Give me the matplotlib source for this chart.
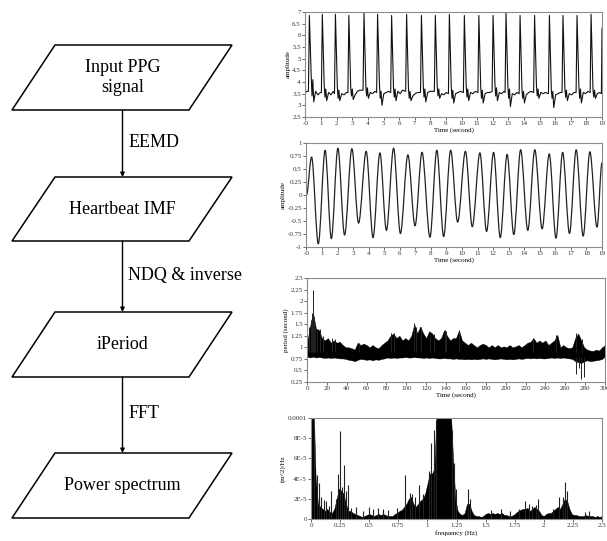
import matplotlib
matplotlib.use('Agg')
import matplotlib.pyplot as plt
import numpy as np
from matplotlib.path import Path
from matplotlib.patches import PathPatch, Polygon

plt.rcParams['font.family'] = ['Liberation Serif', 'DejaVu Serif']

# ---- PPG signal (plot 1), one row per beat ----
ppg_t = [-0.02, 0.10,
         0.19, 0.25, 0.37, 0.42, 0.47, 0.53, 0.65, 0.80, 0.95,
         1.02, 1.08, 1.20, 1.25, 1.30, 1.36, 1.48, 1.63, 1.78,
         1.86, 1.92, 2.04, 2.09, 2.14, 2.20, 2.32, 2.47, 2.62,
         2.72, 2.78, 2.90, 2.95, 3.00, 3.06, 3.18, 3.33, 3.48,
         3.69, 3.75, 3.87, 3.92, 3.97, 4.03, 4.15, 4.30, 4.45,
         4.56, 4.62, 4.74, 4.79, 4.84, 4.90, 5.02, 5.17, 5.32,
         5.46, 5.52, 5.64, 5.69, 5.74, 5.80, 5.92, 6.07, 6.22,
         6.42, 6.48, 6.60, 6.65, 6.70, 6.76, 6.88, 7.03, 7.18,
         7.37, 7.43, 7.55, 7.60, 7.65, 7.71, 7.83, 7.98, 8.13,
         8.26, 8.32, 8.44, 8.49, 8.54, 8.60, 8.72, 8.87, 9.02,
         9.16, 9.22, 9.34, 9.39, 9.44, 9.50, 9.62, 9.77, 9.92,
         10.12, 10.18, 10.30, 10.35, 10.40, 10.46, 10.58, 10.73, 10.88,
         11.05, 11.11, 11.23, 11.28, 11.33, 11.39, 11.51, 11.66, 11.81,
         11.96, 12.02, 12.14, 12.19, 12.24, 12.30, 12.42, 12.57, 12.72,
         12.79, 12.85, 12.97, 13.02, 13.07, 13.13, 13.25, 13.40, 13.55,
         13.69, 13.75, 13.87, 13.92, 13.97, 14.03, 14.15, 14.30, 14.45,
         14.62, 14.68, 14.80, 14.85, 14.90, 14.96, 15.08, 15.23, 15.38,
         15.57, 15.63, 15.75, 15.80, 15.85, 15.91, 16.03, 16.18, 16.33,
         16.44, 16.50, 16.62, 16.67, 16.72, 16.78, 16.90, 17.05, 17.20,
         17.34, 17.40, 17.52, 17.57, 17.62, 17.68, 17.80, 17.95, 18.10,
         18.24, 18.30, 18.42, 18.47, 18.52, 18.58, 18.70, 18.85, 18.96,
         19.0]
ppg_v = [3.55, 3.6,
         3.6, 6.85, 4.2, 3.4, 4.1, 3.15, 3.6, 3.45, 3.55,
         3.55, 6.9, 3.85, 3.35, 3.7, 3.2, 3.55, 3.45, 3.6,
         3.5, 6.9, 3.8, 3.3, 3.65, 3.2, 3.5, 3.45, 3.55,
         3.55, 6.85, 3.75, 3.4, 3.7, 3.25, 3.45, 3.6, 3.65,
         3.65, 6.95, 3.8, 3.4, 3.75, 3.3, 3.55, 3.5, 3.6,
         3.55, 6.9, 3.9, 3.3, 3.6, 3.0, 3.5, 3.55, 3.6,
         3.55, 6.85, 3.75, 3.35, 3.7, 3.2, 3.6, 3.5, 3.65,
         3.6, 6.9, 3.7, 3.3, 3.6, 3.2, 3.4, 3.5, 3.55,
         3.55, 6.85, 3.8, 3.35, 3.7, 3.15, 3.55, 3.6, 3.6,
         3.6, 6.85, 3.85, 3.4, 3.7, 3.3, 3.5, 3.45, 3.55,
         3.5, 6.9, 3.8, 3.3, 3.65, 3.1, 3.5, 3.55, 3.6,
         3.55, 6.85, 3.8, 3.35, 3.7, 3.2, 3.55, 3.5, 3.6,
         3.55, 6.85, 3.75, 3.3, 3.65, 3.1, 3.5, 3.55, 3.55,
         3.6, 6.85, 3.9, 3.4, 3.75, 3.2, 3.55, 3.5, 3.6,
         3.55, 6.95, 3.8, 3.3, 3.7, 2.95, 3.5, 3.45, 3.55,
         3.5, 6.85, 3.7, 3.3, 3.6, 3.1, 3.45, 3.55, 3.6,
         3.55, 6.85, 3.85, 3.4, 3.7, 3.3, 3.55, 3.5, 3.55,
         3.5, 6.85, 3.7, 3.3, 3.6, 2.9, 3.45, 3.5, 3.55,
         3.55, 6.85, 3.75, 3.35, 3.65, 3.2, 3.5, 3.45, 3.55,
         3.55, 6.85, 3.8, 3.3, 3.7, 3.1, 3.55, 3.5, 3.6,
         3.55, 6.9, 3.7, 3.35, 3.65, 3.3, 3.5, 3.55, 3.5,
         6.3]

# ---- heartbeat IMF (plot 2): start, alternating peaks/troughs, end ----
imf_t = [0.0, 0.33, 0.76, 1.20, 1.60, 2.02, 2.45, 2.92, 3.35, 3.84, 4.28,
         4.72, 5.14, 5.60, 6.04, 6.52, 6.98, 7.43, 7.94, 8.38, 8.82, 9.27,
         9.72, 10.22, 10.66, 11.15, 11.58, 12.03, 12.46, 12.90, 13.33, 13.77,
         14.23, 14.68, 15.15, 15.61, 16.04, 16.47, 16.91, 17.34, 17.79, 18.22,
         18.68, 19.0]
imf_v = [0.0, 0.73, -0.94, 0.86, -0.84, 0.90, -0.77, 0.89, -0.54, 0.84, -0.82,
         0.81, -0.68, 0.90, -0.74, 0.77, -0.59, 0.82, -0.81, 0.86, -0.80, 0.86,
         -0.52, 0.84, -0.61, 0.81, -0.70, 0.82, -0.82, 0.78, -0.76, 0.87,
         -0.68, 0.87, -0.65, 0.79, -0.83, 0.82, -0.74, 0.87, -0.79, 0.83,
         -0.62, 0.62]

# ---- iPeriod (plot 3): band envelope every 3 s, plus spikes/dips ----
per_hi = [1.10, 1.45, 1.75, 1.40, 1.38, 1.20, 1.15, 1.20, 1.10, 1.15, 1.10,
          1.12, 1.05, 1.00, 1.00, 0.98, 0.95, 1.10, 1.05, 1.08, 1.05, 1.00,
          1.05, 1.00, 0.98, 1.05, 1.10, 1.15, 1.25, 1.30, 1.20, 1.25, 1.15,
          1.20, 1.15, 1.25, 1.50, 1.30, 1.45, 1.30, 1.20, 1.35, 1.30, 1.20,
          1.15, 1.20, 1.37, 1.25, 1.15, 1.20, 1.20, 1.37, 1.15, 1.10, 1.05,
          1.10, 1.05, 1.00, 1.05, 1.08, 1.05, 1.00, 1.05, 1.00, 1.05, 1.00,
          1.02, 1.00, 1.05, 1.00, 1.02, 1.05, 1.00, 1.05, 1.10, 1.12, 1.20,
          1.10, 1.15, 1.10, 1.15, 1.05, 1.10, 1.15, 1.27, 1.00, 1.05, 1.00,
          0.98, 1.00, 1.20, 1.30, 1.15, 1.00, 0.95, 0.93, 0.92, 0.95, 0.93,
          1.00, 1.05]
per_lo = [0.80, 0.78, 0.80, 0.78, 0.79, 0.78, 0.77, 0.78, 0.77, 0.78, 0.77,
          0.76, 0.76, 0.75, 0.73, 0.72, 0.70, 0.73, 0.75, 0.74, 0.73, 0.74,
          0.72, 0.74, 0.73, 0.75, 0.76, 0.78, 0.77, 0.78, 0.77, 0.78, 0.78,
          0.79, 0.78, 0.78, 0.79, 0.78, 0.78, 0.77, 0.78, 0.77, 0.78, 0.77,
          0.76, 0.76, 0.77, 0.76, 0.76, 0.75, 0.76, 0.75, 0.75, 0.74, 0.75,
          0.74, 0.75, 0.74, 0.75, 0.76, 0.75, 0.76, 0.75, 0.74, 0.75, 0.76,
          0.75, 0.74, 0.75, 0.74, 0.75, 0.76, 0.75, 0.76, 0.77, 0.76, 0.77,
          0.76, 0.77, 0.76, 0.76, 0.77, 0.78, 0.77, 0.78, 0.77, 0.78, 0.77,
          0.76, 0.75, 0.70, 0.68, 0.66, 0.70, 0.72, 0.70, 0.71, 0.72, 0.73,
          0.75, 0.80]
per_step = 3
spike_t = [2, 4.5, 5.5, 6.2, 7, 8, 10, 13, 16, 25, 28, 52, 85, 88, 107.5, 110,
           115, 124, 128, 139, 140, 153, 228, 251, 271, 277]
spike_top = [1.45, 1.6, 1.75, 2.25, 1.65, 1.42, 1.38, 1.4, 1.25, 1.2, 1.18, 1.1,
             1.3, 1.32, 1.52, 1.45, 1.45, 1.3, 1.28, 1.37, 1.35, 1.37, 1.2, 1.27,
             1.32, 1.17]
dip_t = [271, 274, 276, 278.5]
dip_bottom = [0.42, 0.55, 0.32, 0.35]

# ---- power spectrum (plot 4): envelope every 0.02 Hz, in units of 1E-5 ----
psd_env = [12, 12, 4.0, 1.5, 1.2, 1.0, 0.8, 1.0, 0.7, 0.6, 1.0, 2.0, 3.0, 2.8,
           2.5, 1.5, 0.8, 0.8, 0.6, 0.5, 0.4, 0.3, 0.2, 0.3, 0.4, 0.5, 0.4, 0.3,
           0.4, 0.5, 0.4, 0.5, 0.4, 0.3, 0.3, 0.3, 0.5, 0.6, 0.8, 0.9, 1.2, 1.5,
           2.0, 2.2, 1.5, 1.2, 1.5, 1.8, 2.0, 2.5, 3.5, 4.5, 4.5, 5.0, 11, 12,
           12, 12, 12, 12, 11, 6, 2.0, 0.8, 0.5, 0.4, 0.6, 1.5, 1.5, 0.8, 0.4,
           0.3, 0.3, 0.2, 0.3, 0.5, 0.6, 0.5, 0.6, 0.5, 0.6, 0.5, 0.6, 0.4, 0.4,
           0.3, 0.3, 0.4, 0.6, 0.8, 0.9, 1.0, 1.0, 1.1, 0.8, 1.0, 1.2, 1.0, 0.8,
           0.4, 0.3, 0.5, 0.6, 0.6, 0.8, 1.0, 1.2, 1.0, 1.5, 2.0, 1.8, 1.0, 0.5,
           0.4, 0.4, 0.3, 0.3, 0.3, 0.4, 0.3, 0.3, 0.3, 0.2, 0.3, 0.2, 0.3]
psd_step = 0.02
psd_spike_f = [0.03, 0.05, 0.065, 0.09, 0.11, 0.13, 0.155, 0.17, 0.215, 0.235,
               0.25, 0.265, 0.285, 0.30, 0.315, 0.34, 0.39, 0.45, 0.50, 0.53,
               0.575, 0.62, 0.66, 0.74, 0.81, 0.85, 0.87, 0.895, 0.93, 0.96,
               1.01, 1.035, 1.055, 1.075, 1.21, 1.225, 1.245, 1.35, 1.37, 1.55,
               1.63, 1.71, 1.79, 1.84, 1.87, 1.90, 1.93, 1.95, 2.08, 2.13,
               2.165, 2.18, 2.20, 2.35, 2.39]
psd_spike_h = [9, 4.4, 3.6, 2.2, 1.9, 1.8, 1.3, 2.8, 2.0, 4.5, 8.7, 3.2, 5.3,
               2.8, 3.4, 1.1, 1.2, 0.8, 1.2, 1.0, 1.1, 1.0, 0.9, 1.1, 4.4, 2.6,
               2.5, 2.2, 3.4, 2.5, 4.8, 7.5, 8.8, 9.8, 8.8, 5.5, 3.0, 3.0, 2.0,
               0.9, 1.0, 0.8, 1.0, 1.8, 1.5, 1.3, 1.4, 2.0, 1.0, 2.2, 2.2, 3.7,
               2.8, 0.7, 0.8]

# flowchart text
box_texts = ['Input PPG\nsignal', 'Heartbeat IMF', 'iPeriod', 'Power spectrum']
arrow_texts = ['EEMD', 'NDQ & inverse', 'FFT']

W, H = 607, 541
fig = plt.figure(figsize=(W / 100, H / 100), dpi=100)


def px_axes(l, r, t, b):
    return fig.add_axes([l / W, 1 - b / H, (r - l) / W, (b - t) / H])


def style(ax):
    for s in ax.spines.values():
        s.set_color('#8c8c8c')
        s.set_linewidth(0.8)
    ax.tick_params(labelsize=5, length=2, width=0.5, pad=1, colors='#333333')


def smooth_path(xs, ys):
    verts = [(xs[0], ys[0])]
    codes = [Path.MOVETO]
    for i in range(len(xs) - 1):
        d = (xs[i + 1] - xs[i]) / 3
        verts += [(xs[i] + d, ys[i]), (xs[i + 1] - d, ys[i + 1]), (xs[i + 1], ys[i + 1])]
        codes += [Path.CURVE4] * 3
    return Path(verts, codes)


t_ticks = list(range(0, 20))
t_labels = ['-0'] + [str(i) for i in range(1, 20)]

# plot 1
ax1 = px_axes(305, 602, 12, 117)
ax1.plot(ppg_t, ppg_v, color='#111111', lw=0.8)
ax1.set_xlim(-0.03, 19)
ax1.set_ylim(2.5, 7)
ax1.set_xticks(t_ticks)
ax1.set_xticklabels(t_labels)
ax1.set_yticks([2.5, 3, 3.5, 4, 4.5, 5, 5.5, 6, 6.5, 7])
ax1.set_yticklabels(['2.5', '3', '3.5', '4', '4.5', '5', '5.5', '6', '6.5', '7'])
ax1.set_xlabel('Time (second)', fontsize=5, labelpad=1)
ax1.set_ylabel('amplitude', fontsize=5, labelpad=1)
style(ax1)

# plot 2
ax2 = px_axes(306, 602, 143, 247)
ax2.add_patch(PathPatch(smooth_path(imf_t, imf_v), fill=False, edgecolor='#222222', lw=0.9))
ax2.set_xlim(-0.03, 19)
ax2.set_ylim(-1, 1)
ax2.set_xticks(t_ticks)
ax2.set_xticklabels(t_labels)
ax2.set_yticks([-1, -0.75, -0.5, -0.25, 0, 0.25, 0.5, 0.75, 1])
ax2.set_yticklabels(['-1', '-0.75', '-0.5', '-0.25', '0', '0.25', '0.5', '0.75', '1'])
ax2.set_xlabel('Time (second)', fontsize=5, labelpad=1)
ax2.set_ylabel('amplitude', fontsize=5, labelpad=1)
style(ax2)

# plot 3
ax3 = px_axes(307, 605, 278, 382)
per_t = np.arange(len(per_hi)) * per_step
ax3.fill_between(per_t, per_lo, per_hi, color='black', lw=0.3)
ax3.vlines(spike_t, 0.9, spike_top, color='#222222', lw=0.7)
ax3.vlines(dip_t, dip_bottom, 0.8, color='#222222', lw=0.7)
ax3.set_xlim(0, 300)
ax3.set_ylim(0.25, 2.5)
ax3.set_xticks(range(0, 301, 20))
ax3.set_yticks([0.25, 0.5, 0.75, 1, 1.25, 1.5, 1.75, 2, 2.25, 2.5])
ax3.set_yticklabels(['0.25', '0.5', '0.75', '1', '1.25', '1.5', '1.75', '2', '2.25', '2.5'])
ax3.set_xlabel('Time (second)', fontsize=5, labelpad=1)
ax3.set_ylabel('period (second)', fontsize=5, labelpad=1)
style(ax3)

# plot 4
ax4 = px_axes(311, 602, 418, 519)
psd_f = np.arange(len(psd_env)) * psd_step
ax4.fill_between(psd_f, 0, np.array(psd_env) * 1e-5, color='black', lw=0.3)
ax4.vlines(psd_spike_f, 0, np.array(psd_spike_h) * 1e-5, color='#222222', lw=0.8)
ax4.set_xlim(0, 2.5)
ax4.set_ylim(0, 1e-4)
ax4.set_xticks([0, 0.25, 0.5, 0.75, 1, 1.25, 1.5, 1.75, 2, 2.25, 2.5])
ax4.set_xticklabels(['0', '0.25', '0.5', '0.75', '1', '1.25', '1.5', '1.75', '2', '2.25', '2.5'])
ax4.set_yticks([0, 2e-5, 4e-5, 6e-5, 8e-5, 1e-4])
ax4.set_yticklabels(['0', '2E-5', '4E-5', '6E-5', '8E-5', '0.0001'])
ax4.set_xlabel('frequency (Hz)', fontsize=5, labelpad=1)
ax4.set_ylabel('(m^2)/Hz', fontsize=5, labelpad=1)
style(ax4)

# flowchart
axf = fig.add_axes([0, 0, 255 / W, 1])
axf.set_xlim(0, 255)
axf.set_ylim(H, 0)
axf.axis('off')
box_tops = [45, 177, 312, 453]
box_bots = [110, 241, 377, 518]
cx = 122.5
for txt, top, bot in zip(box_texts, box_tops, box_bots):
    axf.add_patch(Polygon([(12, bot), (189, bot), (232, top), (55, top)], closed=True,
                          fill=False, edgecolor='black', lw=1.1))
    axf.text(cx, (top + bot) / 2, txt, ha='center', va='center', fontsize=13,
             linespacing=1.2)
for txt, a, b in zip(arrow_texts, box_bots[:-1], box_tops[1:]):
    axf.annotate('', xy=(cx, b), xytext=(cx, a),
                 arrowprops=dict(arrowstyle='-|>', color='black', lw=1.0,
                                 mutation_scale=6, shrinkA=0, shrinkB=0))
    axf.text(cx + 6, (a + b) / 2 - 1, txt, ha='left', va='center', fontsize=13)

fig.savefig('out.png', dpi=100)
